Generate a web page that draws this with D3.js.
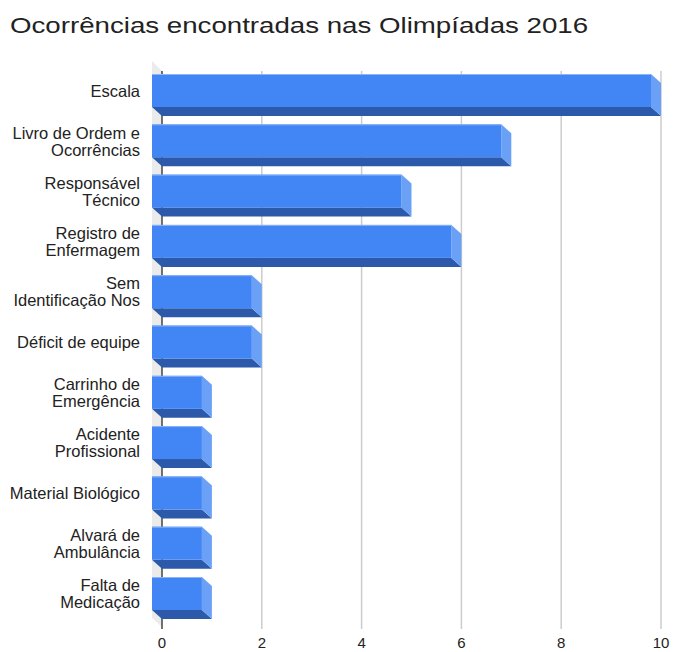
<!DOCTYPE html>
<html>
<head>
<meta charset="utf-8">
<script src="https://cdn.jsdelivr.net/npm/d3@7"></script>
<style>
  html, body { margin: 0; padding: 0; background: #fff; }
  svg { display: block; font-family: "Liberation Sans", Arial, sans-serif; }
</style>
</head>
<body>
<svg id="chart" width="673" height="652"></svg>
<script>
// Occurrence counts per category
const categories = [
  ["Escala"],
  ["Livro de Ordem e", "Ocorrências"],
  ["Responsável", "Técnico"],
  ["Registro de", "Enfermagem"],
  ["Sem", "Identificação Nos"],
  ["Déficit de equipe"],
  ["Carrinho de", "Emergência"],
  ["Acidente", "Profissional"],
  ["Material Biológico"],
  ["Alvará de", "Ambulância"],
  ["Falta de", "Medicação"]
];
const values = [10, 7, 5, 6, 2, 2, 1, 1, 1, 1, 1];
const xTicks = [0, 2, 4, 6, 8, 10];
const title = "Ocorrências encontradas nas Olimpíadas 2016";

const svg = d3.select("#chart");
const keys = categories.map(c => c.join(" "));

// Back plane of the 3D box; bar fronts sit one depth step up-left of it
const depthX = 10, depthY = 9;
const x = d3.scaleLinear().domain([0, 10]).range([162, 661]);
const y = d3.scaleBand().domain(keys).range([65.35, 618.65]).paddingInner(0.344).paddingOuter(0.172);

// Title, set wide
svg.append("text")
  .attr("transform", "translate(10,33) scale(1.258,1)")
  .attr("font-size", 22).attr("fill", "#222")
  .text(title);

// Left side wall
const wallTop = 61, wallBottom = 618;
svg.append("path")
  .attr("d", `M${x(0) - depthX},${wallTop} L${x(0)},${wallTop + depthY + 1} L${x(0)},${wallBottom + depthY} L${x(0) - depthX},${wallBottom} Z`)
  .attr("fill", "#ebebeb");

// Vertical gridlines on the back plane
svg.append("g")
  .selectAll("line")
  .data(xTicks)
  .join("line")
  .attr("x1", d => x(d)).attr("x2", d => x(d))
  .attr("y1", wallTop + depthY + 1).attr("y2", wallBottom + depthY + 2)
  .attr("stroke", d => d === 0 ? "#444" : "#cccccc")
  .attr("stroke-width", 1.5);

// Bars: bottom face, side face, front face
const bars = svg.append("g").selectAll("g")
  .data(keys.map((k, i) => ({ key: k, value: values[i] })))
  .join("g");

bars.append("path")
  .attr("fill", "#2c59a9")
  .attr("d", d => {
    const x0 = x(0) - depthX, x1 = x(d.value) - depthX, yb = y(d.key) + y.bandwidth();
    return `M${x0},${yb} L${x1},${yb} L${x1 + depthX},${yb + depthY} L${x0 + depthX},${yb + depthY} Z`;
  });

bars.append("path")
  .attr("fill", "#6aa1f7")
  .attr("d", d => {
    const x1 = x(d.value) - depthX, yt = y(d.key), yb = yt + y.bandwidth();
    return `M${x1},${yt} L${x1 + depthX},${yt + depthY} L${x1 + depthX},${yb + depthY} L${x1},${yb} Z`;
  });

bars.append("rect")
  .attr("x", x(0) - depthX)
  .attr("y", d => y(d.key))
  .attr("width", d => x(d.value) - x(0))
  .attr("height", y.bandwidth())
  .attr("fill", "#4285f4");

bars.append("line")
  .attr("x1", x(0) - depthX)
  .attr("x2", d => x(d.value) - depthX)
  .attr("y1", d => y(d.key) + 0.5).attr("y2", d => y(d.key) + 0.5)
  .attr("stroke", "#8ab4f8").attr("stroke-width", 1);

// Category labels
const lineH = 17;
svg.append("g")
  .selectAll("text")
  .data(categories)
  .join("text")
  .attr("text-anchor", "end")
  .attr("font-size", 16.5)
  .attr("fill", "#222")
  .each(function (lines, i) {
    const cy = y(keys[i]) + y.bandwidth() / 2 + 0.5;
    const t0 = cy - (lines.length - 1) * lineH / 2;
    d3.select(this).selectAll("tspan")
      .data(lines)
      .join("tspan")
      .attr("x", 140)
      .attr("y", (l, j) => t0 + j * lineH)
      .attr("dy", "0.35em")
      .text(l => l);
  });

// Value axis labels
svg.append("g")
  .selectAll("text")
  .data(xTicks)
  .join("text")
  .attr("x", d => x(d))
  .attr("y", 648)
  .attr("text-anchor", "middle")
  .attr("font-size", 15)
  .attr("fill", "#222")
  .text(d => d);
</script>
</body>
</html>
